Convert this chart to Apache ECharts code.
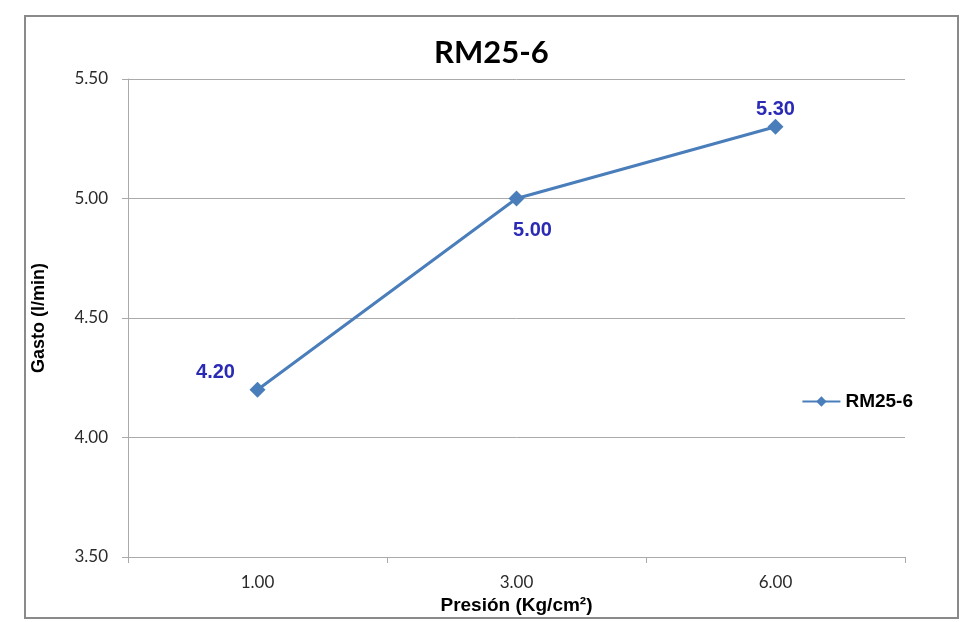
<!DOCTYPE html>
<html><head><meta charset="utf-8">
<script src="https://cdn.jsdelivr.net/npm/echarts@6/dist/echarts.min.js"></script>
<style>html,body{margin:0;padding:0;background:#fff}#c{width:966px;height:622px}</style>
</head><body><div id="c"></div>
<script>
const categories = ['1.00', '3.00', '6.00'];
const values = [4.20, 5.00, 5.30];
const seriesName = 'RM25-6';
const titleText = 'RM25-6';
const xTitle = 'Presión (Kg/cm²)';
const yTitle = 'Gasto (l/min)';

const labelCfg = [
  {position: 'top', offset: [-42, 9], distance: 8},
  {position: 'bottom', offset: [16, 0], distance: 14},
  {position: 'top', offset: [0, 9], distance: 8}
];

const chart = echarts.init(document.getElementById('c'), null, {renderer: 'canvas'});
chart.setOption({
  animation: false,
  backgroundColor: '#fff',
  graphic: [{type: 'rect', shape: {x: 25, y: 16, width: 933, height: 602}, style: {fill: 'none', stroke: '#8a8a8a', lineWidth: 2}}],
  title: {text: titleText, left: 429, top: 32, textStyle: {fontFamily: 'Lato', fontWeight: 'bold', fontSize: 31, color: '#000'}},
  grid: {left: 128, top: 79, right: 61, bottom: 65},
  legend: {right: 48, top: 387, orient: 'vertical', itemWidth: 38, itemHeight: 13, itemGap: 4,
    textStyle: {fontFamily: 'Liberation Sans', fontWeight: 'bold', fontSize: 19, color: '#000'},
    data: [seriesName]},
  xAxis: {type: 'category', data: categories, boundaryGap: true,
    name: xTitle, nameLocation: 'middle', nameGap: 38,
    nameTextStyle: {fontFamily: 'Liberation Sans', fontWeight: 'bold', fontSize: 19, color: '#000'},
    axisLine: {lineStyle: {color: '#aaa', width: 1}},
    axisTick: {show: true, length: 6, lineStyle: {color: '#aaa'}},
    axisLabel: {fontFamily: 'Lato', fontSize: 17, color: '#2a2a2a', margin: 17}},
  yAxis: {type: 'value', min: 3.5, max: 5.5, interval: 0.5,
    name: yTitle, nameLocation: 'middle', nameGap: 80, nameRotate: 90,
    nameTextStyle: {fontFamily: 'Liberation Sans', fontWeight: 'bold', fontSize: 18, color: '#000'},
    axisLine: {show: true, lineStyle: {color: '#aaa', width: 1}},
    axisTick: {show: true, length: 6, inside: false, lineStyle: {color: '#aaa'}},
    splitLine: {show: true, lineStyle: {color: '#aaa', width: 1}},
    axisLabel: {fontFamily: 'Lato', fontSize: 17, color: '#2a2a2a', margin: 20, formatter: v => v.toFixed(2)}},
  series: [{
    name: seriesName, type: 'line',
    data: values.map((v, i) => ({value: v, label: labelCfg[i]})),
    symbol: 'diamond', symbolSize: 16,
    lineStyle: {color: '#4a7ebb', width: 3},
    itemStyle: {color: '#4a7ebb'},
    label: {show: true, fontFamily: 'Liberation Sans', fontWeight: 'bold', fontSize: 20, color: '#2a2ab5',
      formatter: p => p.value.toFixed(2)}
  }]
});
</script></body></html>
